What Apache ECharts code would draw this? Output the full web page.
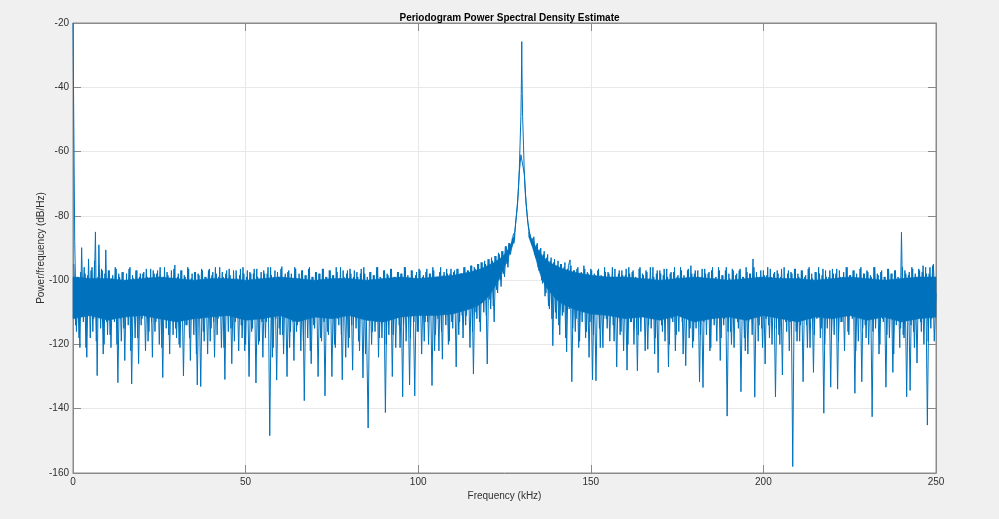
<!DOCTYPE html>
<html>
<head>
<meta charset="utf-8">
<script src="https://cdn.jsdelivr.net/npm/echarts@6/dist/echarts.min.js"></script>
<style>
html,body{margin:0;padding:0;background:#f0f0f0;}
#c{width:999px;height:519px;}
</style>
</head>
<body>
<div id="c"></div>
<script>
const titleText = 'Periodogram Power Spectral Density Estimate';
const xName = 'Frequency (kHz)';
const yName = 'Power/frequency (dB/Hz)';
const xTicks = [0, 50, 100, 150, 200, 250];
const yTicks = [-160, -140, -120, -100, -80, -60, -40, -20];

// PSD estimate, bins at 0, 0.5, 1.0 ... 250 kHz
const noiseStep = 0.5;
const noiseVals = [
  -20, -88, -116, -99, -121, -89.9, -113, -98, -124, -93.4, -118, -96, -112, -85, -129.7, -89, -115, -97, -120, -90.6,
  -117, -97, -121, -98.5, -113, -96.5, -131.9, -99, -119, -97.5, -125, -98, -114, -96, -132.3, -99.5, -118, -97, -126, -98,
  -112, -97.5, -122, -99, -116, -96.5, -124, -98, -113, -97, -120, -99.5, -130.3, -96, -115, -98.5, -123, -97, -117, -95.3,
  -118, -98, -121, -97, -129.8, -99, -114, -96.5, -125, -98, -117, -97.5, -132.6, -98.5, -133.1, -97, -119, -99, -123, -96.5,
  -115, -97.5, -124, -98, -112, -96, -121, -99, -130.9, -97, -116, -98.5, -126, -97, -113, -99.5, -122, -96.5, -118, -98,
  -120, -97, -130, -98, -115, -96.5, -132, -99, -119, -97.5, -124, -98, -113, -96, -148.4, -98.5, -121, -97, -131.1, -99,
  -117, -95.8, -123, -98, -130, -97, -116, -99.5, -125, -96.5, -114, -98, -122, -97, -137.5, -98.5, -118, -96, -126, -99,
  -115, -97.5, -130, -98, -119, -96.5, -136, -99, -117, -97, -130, -98.5, -121, -97.5, -114, -96, -131, -99, -124, -97,
  -118, -98, -128, -97, -115, -99, -122, -96.5, -130.4, -98, -113, -146, -97.5, -120, -98.5, -116, -96, -124, -99, -118,
  -97, -141.2, -98, -117, -96.5, -130, -99, -121, -97.5, -114, -98, -136.3, -96, -119, -98.5, -132.6, -97, -103, -136, -97.5,
  -116, -97, -123, -98.5, -113, -96.5, -120, -98, -132.8, -97, -117, -99, -122, -96, -124.6, -97.5, -114, -98, -119, -96.5,
  -115, -97, -127, -96.5, -113, -98, -118, -96, -111, -97, -121, -95.5, -129.2, -96.5, -112, -95, -116, -94.5, -110, -95,
  -126.1, -93.5, -109, -94, -113, -92.5, -104, -92, -102, -91, -99, -89.5, -96, -88.5, -90, -86, -85, -79, -72.5, -58,
  -25.8, -58, -72.5, -79, -84.5, -84, -89, -86.5, -93, -88.5, -97, -90, -101, -91, -104, -92, -109, -93, -120.4, -93.5,
  -112, -94, -117, -95, -110, -94.5, -122.3, -95.5, -93.7, -131.6, -97, -116, -96.5, -121, -98, -113, -95.5, -118, -97.5, -124,
  -96.5, -131, -98, -131.3, -97, -115, -98.5, -121, -96, -112, -97.5, -119, -99, -114, -96.5, -127, -98, -117, -97, -122,
  -98.5, -128, -96, -113, -97.5, -120, -99, -128.2, -96.5, -116, -98, -111, -97, -121.5, -99.5, -115, -96, -123, -98, -128.8,
  -97, -114, -98.5, -119, -96.5, -127, -98, -112, -97.5, -122, -99, -116, -96, -113, -98.5, -126.6, -97, -118, -95.5, -121,
  -98, -115, -97, -131.6, -99, -133.4, -96.5, -117, -98, -122, -97, -112, -99.5, -119, -96, -125, -98.5, -114, -97, -142.3,
  -98, -116, -96.5, -121, -98.5, -113, -97, -134.7, -99, -118, -96, -123, -98, -112, -93.4, -136.4, -97.5, -119, -99, -115,
  -97, -126.1, -98.5, -114, -96.5, -120, -98, -136.3, -97, -117, -99, -129.5, -96, -113, -98, -122, -97.5, -158, -96.5, -116,
  -98, -119, -97, -131.6, -99, -114, -96.5, -121, -98, -128.7, -97.5, -112, -96, -118, -98.5, -141.4, -97, -115, -99, -133.3,
  -96.5, -117, -98, -133.9, -97, -113, -99, -122, -96, -116, -98.5, -111, -97, -135.2, -98, -119, -96.5, -131.6, -98, -114,
  -97, -120, -98.5, -142.5, -96, -115, -98, -123, -97.5, -112, -99, -133.3, -96.5, -118, -98, -128.7, -97, -114, -99, -121,
  -85.1, -117, -97, -136.3, -98.5, -134.3, -96, -116, -98, -125.8, -96.5, -113, -97.5, -120, -96, -145.1, -98, -115, -95.5, -119,
  -104
];

// PSD estimate, in-between bins at 0.25, 0.75 ... 249.75 kHz
const midStart = 0.25;
const midVals = [
  -95, -114, -99, -118, -97.5, -109, -96, -121, -98.5, -111, -97, -116, -94, -119, -99, -110, -96.5, -123, -98, -113,
  -97, -117, -99.5, -108, -96, -120, -98, -112, -97.5, -115, -100, -109, -96.5, -122, -98.5, -111, -97, -118, -99, -114,
  -98, -110, -96.5, -119, -99.5, -113, -97, -116, -98, -108, -96, -121, -99, -112, -97.5, -117, -100, -110, -96.5, -115,
  -99, -120, -97, -111, -98.5, -114, -96, -118, -99.5, -109, -97.5, -123, -98, -112, -96.5, -116, -99, -110, -97, -119,
  -98.5, -113, -96, -117, -99, -108, -97.5, -121, -98, -111, -96.5, -115, -100, -119, -97, -110, -98.5, -114, -96, -122,
  -99, -111, -97.5, -116, -98, -109, -96.5, -120, -99.5, -113, -97, -118, -98, -110, -96, -124, -99, -112, -97.5, -115,
  -96.5, -117, -99, -110, -97.5, -121, -98, -113, -96, -116, -99.5, -109, -97, -119, -98.5, -111, -96.5, -122, -99, -114,
  -97.5, -110, -98, -118, -96.5, -113, -99, -116, -97, -108, -98.5, -120, -96, -112, -99.5, -117, -97, -110, -98, -121,
  -96.5, -114, -99, -109, -97.5, -119, -98, -112, -96, -123, -99, -110, -97.5, -116, -98.5, -113, -96, -118, -99.5, -111,
  -97, -120, -98.5, -112, -96.5, -117, -99, -109, -97.5, -121, -98, -114, -96, -110, -99.5, -118, -97, -113, -98.5, -116,
  -96.5, -111, -99, -119, -97.5, -113, -98, -108, -96, -122, -99, -112, -97.5, -116, -98.5, -110, -96.5, -120, -98, -113,
  -97.5, -109, -96.5, -117, -98, -111, -96, -114, -97, -108, -95.5, -116, -96, -110, -95, -113, -94.5, -107, -94, -111,
  -93.5, -106, -93, -108, -92.5, -103, -91.5, -100, -91, -98, -89.5, -95, -88.5, -92, -87, -88.5, -82, -77, -67, -61,
  -61, -67, -76, -82, -85, -88, -87, -92, -89, -96, -90.5, -100, -92, -105, -93, -108, -94, -112, -94.5, -110,
  -95.5, -114, -95, -111, -96, -118, -96.5, -109, -95.5, -115, -97, -112, -96, -119, -97.5, -110, -96.5, -116, -98, -113,
  -97, -117, -98.5, -110, -96.5, -121, -99, -112, -97.5, -115, -98, -109, -96, -119, -99.5, -113, -97, -116, -98.5, -111,
  -96.5, -120, -98, -113, -97, -108, -99.5, -117, -96, -111, -98.5, -122, -97.5, -114, -96, -110, -99, -118, -97, -112,
  -98, -116, -96.5, -109, -99, -120, -97.5, -113, -96, -117, -98.5, -110, -97, -123, -99.5, -112, -96.5, -115, -98, -119,
  -97, -111, -99, -117, -96.5, -113, -98, -109, -97.5, -121, -96, -114, -99, -110, -97, -118, -98.5, -112, -96, -116,
  -99.5, -120, -97, -111, -98, -115, -96.5, -109, -99, -122, -97.5, -113, -98, -117, -96, -110, -99, -114, -97, -121,
  -98.5, -112, -96, -118, -99, -110, -97.5, -115, -98, -120, -96.5, -111, -99.5, -116, -97, -113, -98, -109, -96.5, -119,
  -99, -114, -97, -110, -98.5, -121, -96, -112, -99.5, -117, -97.5, -109, -98, -115, -96.5, -120, -99, -111, -97, -116,
  -98, -110, -96.5, -119, -99, -113, -97.5, -108, -96, -117, -98.5, -112, -97, -122, -99.5, -110, -96, -115, -98, -118,
  -97.5, -111, -99, -116, -96, -109, -98.5, -120, -97, -113, -99, -117, -96.5, -110, -98, -123, -97, -112, -99.5, -115,
  -96, -118, -98, -110, -97.5, -114, -96.5, -121, -99, -111, -97, -116, -95.5, -109, -98, -119, -96, -112, -95, -110
];

// extra samples on the narrow tone peak at 130 kHz
const peakFreq = [128.75, 129.25, 129.75, 129.85, 129.95, 130.05, 130.15, 130.25, 130.75, 131.25];
const peakVals = [-76, -67, -49, -42, -33, -33, -42, -49, -67, -76];

// dense core of the noise band (upper / lower edge), left and right of the tone
const coreLeftFreq = [0, 5, 10, 15, 20, 25, 30, 35, 40, 45, 50, 55, 60, 65, 70, 75, 80, 85, 90, 95, 100,
                      105, 110, 115, 118, 120, 122, 124, 125, 126, 127, 128];
const coreLeftTop = [-99, -99.5, -99.5, -100, -99.5, -99, -99.5, -100, -99.5, -99.5, -100, -99.5, -99, -99.5, -100, -99.5, -99.5, -100, -99.5, -99, -99.5,
                     -99, -98.5, -97.5, -96.5, -95.5, -94.5, -93, -92, -90.5, -88.5, -85.5];
const coreLeftBot = [-112, -111, -112.5, -111.5, -111, -112, -113, -112, -111.5, -111, -112.5, -112, -111, -113, -111.5, -112, -111, -112.5, -113, -111.5, -111,
                     -111, -110.5, -109, -107.5, -105.5, -102.5, -98.5, -96, -93, -90.5, -87];
const coreRightFreq = [132, 133, 134, 135, 136, 137, 138, 140, 142, 145,
                       150, 155, 160, 165, 170, 175, 180, 185, 190, 195, 200, 205, 210, 215, 220, 225, 230, 235, 240, 245, 250];
const coreRightTop = [-85, -87.5, -89.5, -91, -92.5, -93.5, -94.5, -95.5, -96.5, -97.5,
                      -98.5, -99, -99, -99.5, -100, -99.5, -99, -99.5, -100, -99.5, -99, -99.5, -99.5, -100, -99.5, -99, -99.5, -100, -99.5, -99, -99];
const coreRightBot = [-86.5, -89.5, -93, -97, -100, -102, -103.5, -106, -107.5, -109,
                      -110.5, -111, -112, -111.5, -112.5, -111, -113, -112, -111.5, -112.5, -111, -112, -113, -111.5, -112, -111, -112.5, -111.5, -113, -112, -111.5];

const psd = noiseVals.map((v, i) => [i * noiseStep, v])
  .concat(peakFreq.map((f, i) => [f, peakVals[i]]))
  .sort((a, b) => a[0] - b[0]);
const psdMid = midVals.map((v, i) => [midStart + i * noiseStep, v]);
const coreBands = [
  coreLeftFreq.map((f, i) => [f, coreLeftTop[i], coreLeftBot[i]]),
  coreRightFreq.map((f, i) => [f, coreRightTop[i], coreRightBot[i]])
];

const lineColor = '#0072BD';
const axisGray = '#8a8a8a';
const labelColor = '#303030';
const font = '"Liberation Sans", Arial, Helvetica, sans-serif';
const xMin = xTicks[0], xMax = xTicks[xTicks.length - 1], xInt = xTicks[1] - xTicks[0];
const yMin = yTicks[0], yMax = yTicks[yTicks.length - 1], yInt = yTicks[1] - yTicks[0];

const chart = echarts.init(document.getElementById('c'), null, {renderer: 'canvas'});
chart.setOption({
  backgroundColor: '#f0f0f0',
  animation: false,
  title: {
    text: titleText, left: 504.5, top: 8, textAlign: 'center',
    textStyle: {fontFamily: font, fontSize: 10, fontWeight: 'bold', color: '#000'}
  },
  grid: {left: 73, right: 63, top: 23, bottom: 46, show: true, backgroundColor: '#ffffff', borderColor: axisGray, borderWidth: 1},
  xAxis: [{
    type: 'value', min: xMin, max: xMax, interval: xInt, position: 'bottom',
    name: xName, nameLocation: 'middle', nameGap: 18, nameMoveOverlap: false,
    nameTextStyle: {fontFamily: font, fontSize: 10, color: labelColor},
    axisLine: {show: true, onZero: false, lineStyle: {color: axisGray}},
    axisTick: {show: true, inside: true, length: 8, lineStyle: {color: axisGray}},
    axisLabel: {margin: 4, color: labelColor, fontSize: 10, fontFamily: font},
    splitLine: {show: true, lineStyle: {color: '#e8e8e8'}}
  }, {
    type: 'value', min: xMin, max: xMax, interval: xInt, position: 'top',
    axisLine: {show: true, onZero: false, lineStyle: {color: axisGray}},
    axisTick: {show: true, inside: true, length: 8, lineStyle: {color: axisGray}},
    axisLabel: {show: false}, splitLine: {show: false}
  }],
  yAxis: [{
    type: 'value', min: yMin, max: yMax, interval: yInt, position: 'left',
    name: yName, nameLocation: 'middle', nameGap: 27, nameMoveOverlap: false,
    nameTextStyle: {fontFamily: font, fontSize: 10, color: labelColor},
    axisLine: {show: true, onZero: false, lineStyle: {color: axisGray}},
    axisTick: {show: true, inside: true, length: 8, lineStyle: {color: axisGray}},
    axisLabel: {margin: 4, color: labelColor, fontSize: 10, fontFamily: font},
    splitLine: {show: true, lineStyle: {color: '#e8e8e8'}}
  }, {
    type: 'value', min: yMin, max: yMax, interval: yInt, position: 'right',
    axisLine: {show: true, onZero: false, lineStyle: {color: axisGray}},
    axisTick: {show: true, inside: true, length: 8, lineStyle: {color: axisGray}},
    axisLabel: {show: false}, splitLine: {show: false}
  }],
  series: [{
    type: 'custom',
    data: coreBands.map((b, k) => [b[0][0], b[0][1], k]),
    encode: {x: 0, y: 1}, silent: true, z: 1,
    renderItem: function (params, api) {
      const band = coreBands[params.dataIndex];
      const pts = [];
      for (let i = 0; i < band.length; i++) pts.push(api.coord([band[i][0], band[i][1]]));
      for (let i = band.length - 1; i >= 0; i--) pts.push(api.coord([band[i][0], band[i][2]]));
      return {type: 'polygon', shape: {points: pts}, style: {fill: lineColor, stroke: lineColor, lineWidth: 0.5}};
    }
  }, {
    type: 'line', data: psdMid, symbol: 'none',
    lineStyle: {color: lineColor, width: 1}, silent: true, z: 2
  }, {
    type: 'line', data: psd, symbol: 'none',
    lineStyle: {color: lineColor, width: 1}, silent: true, z: 3
  }]
});
</script>
</body>
</html>
